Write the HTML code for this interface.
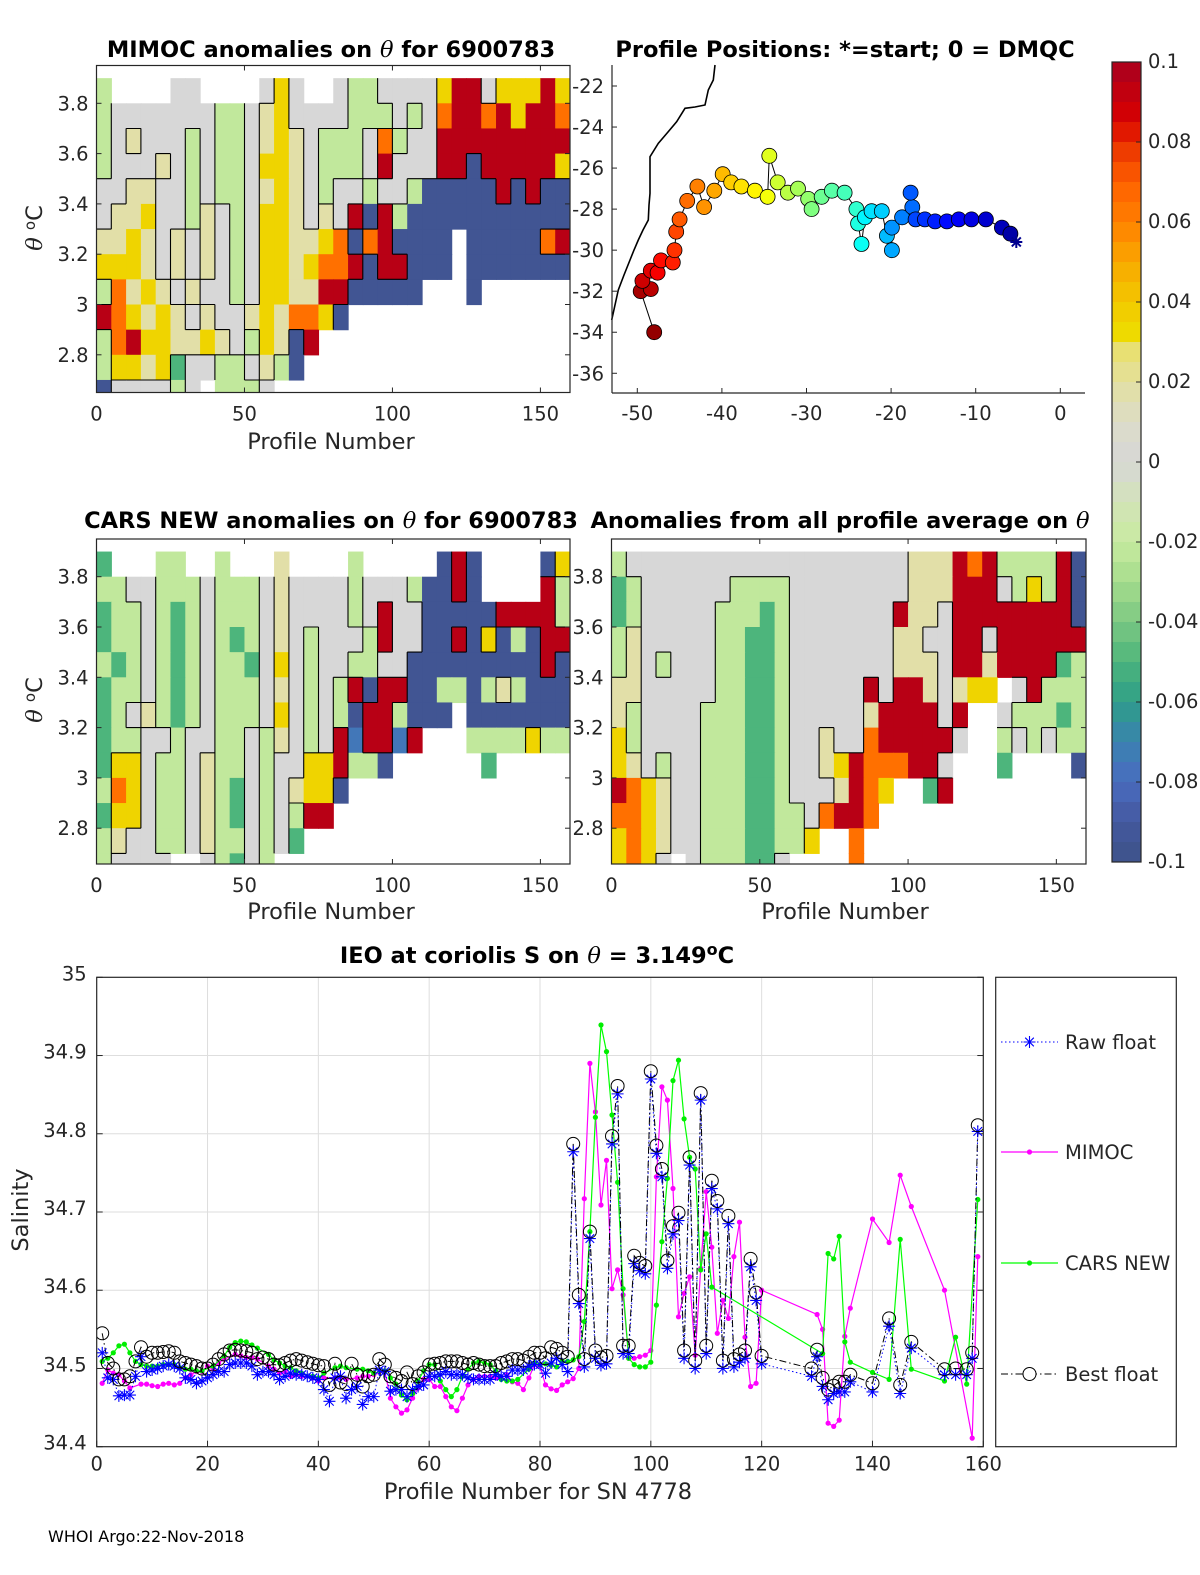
<!DOCTYPE html>
<html><head><meta charset="utf-8"><title>6900783 DMQC</title>
<style>
html,body{margin:0;padding:0;background:#fff;}
svg{display:block;font-family:"DejaVu Sans","Liberation Sans",sans-serif;}
.tk{font-size:19.5px;fill:#262626;}
.ttl{font-size:22.5px;font-weight:bold;fill:#000;}
.lbl{font-size:22.5px;fill:#262626;}
</style></head>
<body>
<svg id="fig" xmlns="http://www.w3.org/2000/svg" width="1200" height="1575" viewBox="0 0 1200 1575">
<defs>
<clipPath id="c1"><rect x="96.5" y="65.5" width="473.5" height="327"/></clipPath>
<clipPath id="c2"><rect x="96.5" y="539" width="473.5" height="325"/></clipPath>
<clipPath id="c3"><rect x="611.5" y="539" width="474.5" height="325"/></clipPath>
<clipPath id="cb"><rect x="96.7" y="977.3" width="886.6" height="469.4"/></clipPath>
</defs>
<rect width="1200" height="1575" fill="#fff"/>
<text class="ttl" x="331" y="57" text-anchor="middle">MIMOC anomalies on <tspan font-family="DejaVu Serif,serif" font-style="italic" font-weight="normal">θ</tspan>  for 6900783</text>
<text class="ttl" x="845" y="57" text-anchor="middle">Profile Positions: *=start; 0 = DMQC</text>
<text class="ttl" x="331" y="528" text-anchor="middle">CARS NEW anomalies on <tspan font-family="DejaVu Serif,serif" font-style="italic" font-weight="normal">θ</tspan> for 6900783</text>
<text class="ttl" x="840" y="528" text-anchor="middle">Anomalies from all profile average on <tspan font-family="DejaVu Serif,serif" font-style="italic" font-weight="normal">θ</tspan></text>
<text class="ttl" x="537" y="963" text-anchor="middle">IEO at coriolis S on <tspan font-family="DejaVu Serif,serif" font-style="italic" font-weight="normal">θ</tspan> = 3.149<tspan dy="-8" font-size="16">o</tspan><tspan dy="8">C</tspan></text>
<text class="lbl" x="331" y="449" text-anchor="middle">Profile Number</text>
<text class="lbl" x="331" y="919" text-anchor="middle">Profile Number</text>
<text class="lbl" x="845" y="919" text-anchor="middle">Profile Number</text>
<text class="lbl" transform="translate(42,228) rotate(-90)" text-anchor="middle"><tspan font-family="DejaVu Serif,serif" font-style="italic">θ</tspan> <tspan dy="-7" font-size="15">o</tspan><tspan dy="7">C</tspan></text>
<text class="lbl" transform="translate(42,700) rotate(-90)" text-anchor="middle"><tspan font-family="DejaVu Serif,serif" font-style="italic">θ</tspan> <tspan dy="-7" font-size="15">o</tspan><tspan dy="7">C</tspan></text>
<text class="lbl" x="538" y="1499" text-anchor="middle">Profile Number for SN 4778</text>
<text class="lbl" transform="translate(28,1210) rotate(-90)" text-anchor="middle">Salinity</text>
<text x="48" y="1542" font-size="16" fill="#000">WHOI Argo:22-Nov-2018</text>
<g id="layer"></g>
</svg>
<script>
// ---------- data ----------
const cellCodes = ['B','G','g','w','p','y','o','r'];
const cellVals  = [-0.095,-0.05,-0.022,0,0.018,0.035,0.065,0.095];
const rowTops = [3.9,3.8,3.7,3.6,3.5,3.4,3.3,3.2,3.1,3.0,2.9,2.8,2.7];
const mimocRows = [
"g....ww....wyw..wggwwwwyrrwyyyry",
"gwwwwwwwggwpywwwwgggwgworroryrro",
"gwpwwwgwggwpypwgggwogwwrrrrrrrrr",
"gwwwpwgwggwyypwgggwrwwwrrBrrrrry",
"wwppwwgwggwpypwgwwgwwgBBBBBrBrBB",
"wppywwgpwgwyypwpwrBrgBBBBBBBBBBB",
"ppypwpwpwgwyyppyoBorBBBB.BBBBBor",
"yyypwpwpwgwyypyoorBrrBBB.BBBBBBB",
"gopypwpwwgwyypprrBBBBB...B......",
"roypypwpwwpypooyB...............",
"goryyppypwgypBr.................",
"gyypyGwwggwpgB..................",
"Bwwwwgw.gggw...................."];
const carsRows = [
"G...gg..g...p....g.....BrB....By",
"ggwwgggwgggwpwwwwgwwwgBBrB....rg",
"GggwgGgwgggwpwwwwgwrwwBBBBBrrrrg",
"GggwgGgwgGgwpwgwwwgrwwBBrByBgBrr",
"gGgwgGgwggGwywgwwggwwBBBBBBBBBrB",
"GggwgGgwgggwpwgwgrBrrBBggBgpgBBB",
"GgwpgGgwgggwywgwgBrrgBBB.BBBBBBB",
"Gggwwgwwggwgpwgwrbrrbr...ggggygg",
"GyywggwpggwgwwyyrggB......G.....",
"goywggwpgGwgwpyyB...............",
"GyywggwpgGwgwgrr................",
"gpwwggwpggwgwG..................",
"gwwww..wgGwg...................."];
const avgRows = [
"gwwwwwwwwwwwwwwwwwwwppprorggggrB",
"GgwwwwwwggggwwwwwwwwppprrrwgygrB",
"GgwwwwwgggGgwwwwwwwrppwrrrrrrrrB",
"gpwwwwwggGGgwwwwwwwppwwrrwrrrrrr",
"gpwgwwwggGGgwwwwwwwpppwrrprrrrGg",
"ppwwwwwggGGgwwwwwrwrrpwpyy.wrggg",
"pgwwwwgggGGgwwwwwprrrrwr..wgggGg",
"ygwwwwgggGGgwwpwworrrrrw..gwgwgg",
"ypwgwwgggGGgwwpyrooorrw...G....B",
"roypwwgggGGgwwwproy..Gr.........",
"ooypwwgggGGggworro..............",
"yoypwwgggGGggy..o...............",
"yoyw.wgggGGw....o..............."];
const cbTicks = [0.1,0.08,0.06,0.04,0.02,0,-0.02,-0.04,-0.06,-0.08,-0.1];
const cbTickLabels = ['0.1','0.08','0.06','0.04','0.02','0','-0.02','-0.04','-0.06','-0.08','-0.1'];
const trackLon = [-5.2,-5.9,-6.9,-8.8,-10.5,-12.0,-13.4,-14.8,-16.0,-17.1,-17.7,-17.5,-18.7,-19.9,-19.9,-20.5,-21.1,-22.3,-23.1,-23.5,-23.9,-24.1,-25.5,-27.0,-28.2,-29.4,-29.8,-31.0,-32.2,-33.4,-34.4,-34.6,-36.1,-37.7,-38.9,-39.9,-40.9,-42.1,-42.9,-44.1,-45.0,-45.4,-45.6,-45.8,-47.2,-47.6,-48.4,-49.4,-48.4,-49.6,-48.0];
const trackLat = [-29.6,-29.2,-28.9,-28.5,-28.5,-28.5,-28.6,-28.6,-28.5,-28.5,-27.2,-27.9,-28.4,-28.9,-30.0,-29.3,-28.1,-28.1,-28.4,-29.7,-28.7,-28.0,-27.2,-27.1,-27.4,-28.0,-27.5,-27.0,-27.2,-26.7,-25.4,-27.4,-27.1,-26.9,-26.7,-26.3,-27.1,-27.9,-26.9,-27.6,-28.5,-29.1,-30.0,-30.6,-30.5,-31.1,-31.0,-31.5,-31.9,-32.0,-34.0];
const mapXTicks = [-50,-40,-30,-20,-10,0];
const mapYTicks = [-22,-24,-26,-28,-30,-32,-34,-36];
const heatXTicks = [0,50,100,150];
const heatYTicks = [3.8,3.6,3.4,3.2,3.0,2.8];
const heatYLabels = ['3.8','3.6','3.4','3.2','3','2.8'];
const salXTicks = [0,20,40,60,80,100,120,140,160];
const salYTicks = [34.4,34.5,34.6,34.7,34.8,34.9,35];
const salYLabels = ['34.4','34.5','34.6','34.7','34.8','34.9','35'];
const floatProf = [1,2,3,4,5,6,7,8,9,10,11,12,13,14,15,16,17,18,19,20,21,22,23,24,25,26,27,28,29,30,31,32,33,34,35,36,37,38,39,40,41,42,43,44,45,46,47,48,49,50,51,52,53,54,55,56,57,58,59,60,61,62,63,64,65,66,67,68,69,70,71,72,73,74,75,76,77,78,79,80,81,82,83,84,85,86,87,88,89,90,91,92,93,94,95,96,97,98,99,100,101,102,103,104,105,106,107,108,109,110,111,112,113,114,115,116,117,118,119,120,129,130,131,132,133,134,135,136,140,143,145,147,153,155,157,158,159];
const rawFloat = [34.520,34.488,34.486,34.465,34.466,34.466,34.490,34.515,34.496,34.498,34.500,34.503,34.505,34.503,34.500,34.488,34.486,34.481,34.484,34.488,34.492,34.496,34.496,34.505,34.507,34.507,34.507,34.503,34.492,34.496,34.496,34.492,34.486,34.490,34.494,34.492,34.492,34.490,34.488,34.486,34.473,34.458,34.488,34.490,34.462,34.473,34.477,34.454,34.464,34.464,34.498,34.496,34.471,34.473,34.473,34.464,34.473,34.477,34.479,34.490,34.490,34.492,34.496,34.492,34.492,34.492,34.488,34.486,34.486,34.486,34.486,34.492,34.490,34.490,34.498,34.498,34.498,34.503,34.505,34.505,34.494,34.507,34.513,34.505,34.496,34.777,34.583,34.502,34.666,34.513,34.504,34.506,34.787,34.851,34.519,34.519,34.634,34.625,34.621,34.870,34.775,34.745,34.628,34.672,34.689,34.513,34.760,34.500,34.843,34.519,34.730,34.704,34.500,34.685,34.502,34.508,34.513,34.630,34.587,34.506,34.490,34.515,34.477,34.460,34.468,34.470,34.470,34.483,34.470,34.554,34.468,34.526,34.492,34.492,34.492,34.513,34.803];
const bestFloat = [34.545,34.507,34.500,34.486,34.486,34.490,34.509,34.527,34.515,34.520,34.520,34.521,34.522,34.520,34.509,34.507,34.505,34.503,34.500,34.500,34.505,34.512,34.518,34.523,34.524,34.523,34.522,34.520,34.512,34.514,34.512,34.505,34.504,34.507,34.510,34.512,34.510,34.508,34.506,34.504,34.503,34.479,34.506,34.482,34.480,34.506,34.492,34.477,34.490,34.492,34.512,34.505,34.490,34.488,34.484,34.495,34.480,34.490,34.495,34.505,34.506,34.507,34.509,34.509,34.509,34.507,34.505,34.507,34.505,34.503,34.503,34.503,34.507,34.509,34.512,34.512,34.510,34.515,34.520,34.520,34.513,34.527,34.525,34.520,34.515,34.787,34.594,34.512,34.675,34.523,34.514,34.516,34.797,34.861,34.529,34.529,34.644,34.635,34.631,34.880,34.785,34.755,34.638,34.682,34.699,34.523,34.770,34.510,34.852,34.529,34.740,34.714,34.510,34.695,34.512,34.518,34.523,34.640,34.597,34.516,34.500,34.524,34.488,34.473,34.478,34.483,34.483,34.492,34.481,34.564,34.479,34.534,34.499,34.500,34.499,34.520,34.811];
const mimocProf = [1,2,3,4,5,6,8,9,10,11,12,13,14,15,16,17,18,19,20,21,22,23,25,26,27,28,29,31,32,33,34,35,36,37,39,40,41,43,44,45,47,48,49,50,52,53,54,55,56,57,58,59,60,61,62,63,64,65,66,67,68,69,70,71,72,73,74,75,76,77,78,79,80,81,82,83,84,85,86,87,88,89,90,91,92,93,94,95,96,97,98,99,100,101,102,103,104,105,106,107,108,109,110,111,112,113,114,115,116,117,118,119,120,130,131,132,133,134,135,136,140,143,145,147,153,158,159];
const mimocVal = [34.481,34.498,34.494,34.492,34.484,34.475,34.480,34.480,34.478,34.477,34.480,34.481,34.479,34.481,34.488,34.492,34.496,34.496,34.503,34.499,34.507,34.512,34.518,34.516,34.514,34.514,34.512,34.503,34.499,34.494,34.496,34.490,34.492,34.490,34.488,34.484,34.488,34.488,34.488,34.486,34.488,34.490,34.490,34.492,34.496,34.462,34.451,34.443,34.447,34.462,34.475,34.486,34.486,34.477,34.477,34.464,34.451,34.446,34.462,34.479,34.486,34.490,34.490,34.490,34.488,34.488,34.492,34.483,34.481,34.473,34.488,34.505,34.503,34.479,34.474,34.472,34.479,34.483,34.487,34.500,34.717,34.890,34.828,34.709,34.766,34.602,34.626,34.594,34.513,34.513,34.515,34.517,34.523,34.745,34.860,34.843,34.730,34.566,34.596,34.617,34.517,34.628,34.726,34.655,34.545,34.587,34.564,34.643,34.687,34.540,34.477,34.481,34.600,34.569,34.550,34.430,34.426,34.434,34.541,34.577,34.691,34.661,34.747,34.707,34.600,34.411,34.643];
const carsProf = [1,2,3,4,5,6,7,8,9,10,11,12,13,14,15,16,17,18,19,21,23,24,25,26,27,28,29,31,32,33,34,35,36,37,39,40,41,43,44,45,47,48,49,50,52,53,54,55,56,57,58,59,60,61,62,63,64,65,66,67,68,69,70,71,72,73,74,75,76,78,79,80,81,82,83,84,85,86,87,88,89,90,91,92,93,94,95,96,97,98,99,100,101,102,103,104,105,106,107,108,109,110,111,131,132,133,134,135,136,140,143,145,147,153,155,157,159];
const carsVal = [34.509,34.513,34.520,34.529,34.531,34.520,34.509,34.505,34.503,34.503,34.503,34.505,34.505,34.505,34.501,34.499,34.499,34.497,34.497,34.503,34.516,34.527,34.533,34.535,34.534,34.530,34.526,34.518,34.511,34.507,34.503,34.501,34.497,34.494,34.490,34.488,34.494,34.501,34.503,34.501,34.499,34.499,34.497,34.494,34.497,34.488,34.480,34.466,34.460,34.468,34.484,34.497,34.505,34.505,34.484,34.473,34.464,34.473,34.490,34.499,34.507,34.509,34.507,34.505,34.497,34.486,34.484,34.484,34.486,34.499,34.507,34.505,34.506,34.504,34.502,34.509,34.509,34.511,34.515,34.560,34.675,34.821,34.939,34.905,34.824,34.738,34.602,34.513,34.505,34.502,34.502,34.508,34.581,34.662,34.743,34.868,34.894,34.819,34.770,34.755,34.626,34.672,34.604,34.519,34.647,34.640,34.669,34.534,34.508,34.495,34.486,34.665,34.499,34.484,34.540,34.480,34.716];

// ---------- helpers ----------
const NS='http://www.w3.org/2000/svg';
const layer=document.getElementById('layer');
function mk(tag,attrs,parent){const e=document.createElementNS(NS,tag);for(const k in attrs)e.setAttribute(k,attrs[k]);(parent||layer).appendChild(e);return e;}
const stops=[[-0.1,'#3d5288'],[-0.09,'#44589e'],[-0.08,'#4a6cc0'],[-0.07,'#3a82b0'],[-0.06,'#2e9e88'],[-0.05,'#4db57c'],[-0.04,'#7cc882'],[-0.03,'#a5dc8c'],[-0.02,'#c8eba0'],[-0.01,'#d3e3b8'],[0,'#d7d7d7'],[0.01,'#dcdcc8'],[0.02,'#e3e0a0'],[0.028,'#e8e070'],[0.03,'#ece000'],[0.04,'#f2c800'],[0.05,'#f9a800'],[0.06,'#ff8000'],[0.07,'#ff6000'],[0.08,'#e83000'],[0.085,'#d90000'],[0.1,'#a8001f']];
function hx(c){return [parseInt(c.substr(1,2),16),parseInt(c.substr(3,2),16),parseInt(c.substr(5,2),16)];}
function cmap(v){v=Math.max(-0.1,Math.min(0.1,v));for(let i=0;i<stops.length-1;i++){if(v<=stops[i+1][0]){const t=(v-stops[i][0])/(stops[i+1][0]-stops[i][0]);const a=hx(stops[i][1]),b=hx(stops[i+1][1]);return 'rgb('+a.map((x,j)=>Math.round(x+(b[j]-x)*t)).join(',')+')';}}return stops[stops.length-1][1];}
function jet(t){const r=Math.max(0,Math.min(1,1.5-Math.abs(4*t-3))),g=Math.max(0,Math.min(1,1.5-Math.abs(4*t-2))),b=Math.max(0,Math.min(1,1.5-Math.abs(4*t-1)));return 'rgb('+Math.round(r*255)+','+Math.round(g*255)+','+Math.round(b*255)+')';}
function cval(ch){if(ch==='.')return null;const i=cellCodes.indexOf(ch);return i>=0?cellVals[i]:-0.075;}
function cls(v){return v===null?null:(v<-0.01?-1:(v>0.01?1:0));}

// ---------- heatmaps ----------
function heatmap(rows,P,name){
  const X=p=>P.x0+(P.x1-P.x0)*p/160;
  const Y=v=>P.y38+(3.8-v)*251.5;
  const g=mk('g',{'clip-path':'url(#'+P.clip+')'});
  
  
  rows.forEach((row,r)=>{
    for(let c=0;c<row.length;c++){
      const val=cval(row[c]); if(val===null)continue;
      const rc=mk('rect',{x:X(c*5).toFixed(2),y:Y(rowTops[r]).toFixed(2),width:(X(5)-X(0)+0.6).toFixed(2),height:(Y(rowTops[r]-0.1)-Y(rowTops[r])+0.6).toFixed(2),fill:cmap(val)},g);
      
      
    }
  });
  let d='';
  rows.forEach((row,r)=>{
    for(let c=0;c<row.length;c++){
      const a=cls(cval(row[c])); if(a===null)continue;
      if(c+1<row.length){const b=cls(cval(row[c+1])); if(b!==null&&b!==a){const x=X((c+1)*5);d+=`M${x.toFixed(1)},${Y(rowTops[r]).toFixed(1)}V${Y(rowTops[r]-0.1).toFixed(1)}`;}}
      if(r+1<rows.length){const b=cls(cval(rows[r+1][c])); if(b!==null&&b!==a){const y=Y(rowTops[r]-0.1);d+=`M${X(c*5).toFixed(1)},${y.toFixed(1)}H${X(c*5+5).toFixed(1)}`;}}
    }
  });
  const ct=mk('path',{d:d,fill:'none',stroke:'#000','stroke-width':1.1},g);
  
  
  const fr=mk('rect',{x:P.x0,y:P.top,width:P.x1-P.x0,height:P.bot-P.top,fill:'none',stroke:'#262626','stroke-width':1.2});
  
  
  heatXTicks.forEach(t=>{
    mk('line',{x1:X(t),x2:X(t),y1:P.bot,y2:P.bot-5,stroke:'#262626'});
    mk('line',{x1:X(t),x2:X(t),y1:P.top,y2:P.top+5,stroke:'#262626'});
    const tx=mk('text',{x:X(t),y:P.bot+28,'text-anchor':'middle',class:'tk'});tx.textContent=t;
    
    
  });
  heatYTicks.forEach((t,i)=>{
    mk('line',{x1:P.x0,x2:P.x0+5,y1:Y(t),y2:Y(t),stroke:'#262626'});
    mk('line',{x1:P.x1,x2:P.x1-5,y1:Y(t),y2:Y(t),stroke:'#262626'});
    const tx=mk('text',{x:P.x0-8,y:Y(t)+7,'text-anchor':'end',class:'tk'});tx.textContent=heatYLabels[i];
    
    
  });
}
heatmap(mimocRows,{x0:96.5,x1:570,y38:103.3,top:65.5,bot:392.5,clip:'c1'},'mimoc-heatmap');
heatmap(carsRows,{x0:96.5,x1:570,y38:576.7,top:539,bot:864,clip:'c2'},'cars-heatmap');
heatmap(avgRows,{x0:611.5,x1:1086,y38:576.7,top:539,bot:864,clip:'c3'},'avg-heatmap');

// ---------- colour bar ----------
(function(){
  const x0=1112,w=29,top=62,bot=862,n=40;
  for(let i=0;i<n;i++){
    const v=0.1-(i+0.5)*0.2/n;
    const r=mk('rect',{x:x0,y:(top+i*(bot-top)/n).toFixed(2),width:w,height:((bot-top)/n+0.5).toFixed(2),fill:cmap(v)});
    
    
  }
  const f=mk('rect',{x:x0,y:top,width:w,height:bot-top,fill:'none',stroke:'#262626','stroke-width':1.2});
  
  
  cbTicks.forEach((t,i)=>{
    const y=top+(0.1-t)*(bot-top)/0.2;
    mk('line',{x1:x0+w-5,x2:x0+w,y1:y,y2:y,stroke:'#262626'});
    const tx=mk('text',{x:1148,y:y+6,class:'tk','font-size':'17'});tx.textContent=cbTickLabels[i];
    
    
  });
})();

// ---------- map ----------
(function(){
  const LX=lon=>1060.3+lon*8.46, LY=lat=>86+(-22-lat)*20.52;
  const left=612,bot=393,right=1085,top=65;
  const coast=mk('polyline',{points:'611.7,320 618.3,290 624,275 630,260 634,250 638.3,240 643,230 648.3,220 649,205 650,193.3 650,170 650,156.7 658.3,143.3 668,132 676.7,121.7 685,108.3 695,107 705,105 708.3,90 713.3,80 715,65',fill:'none',stroke:'#000','stroke-width':1.6});
  
  
  const trk=mk('polyline',{points:trackLon.map((l,i)=>LX(l).toFixed(1)+','+LY(trackLat[i]).toFixed(1)).join(' '),fill:'none',stroke:'#000','stroke-width':1});
  
  
  const n=trackLon.length;
  for(let i=n-1;i>=1;i--){
    const c=mk('circle',{cx:LX(trackLon[i]).toFixed(1),cy:LY(trackLat[i]).toFixed(1),r:7.5,fill:jet(0.02+0.96*i/(n-1)),stroke:'#000','stroke-width':0.8});
    
    
  }
  const sx=LX(trackLon[0]),sy=LY(trackLat[0]);
  const st=mk('path',{d:`M${sx-6},${sy}H${sx+6}M${sx},${sy-6}V${sy+6}M${sx-4.5},${sy-4.5}L${sx+4.5},${sy+4.5}M${sx-4.5},${sy+4.5}L${sx+4.5},${sy-4.5}`,stroke:'#00008f','stroke-width':2});
  
  
  mk('line',{x1:left,x2:right,y1:bot,y2:bot,stroke:'#262626','stroke-width':1.2});
  mk('line',{x1:left,x2:left,y1:top,y2:bot,stroke:'#262626','stroke-width':1.2});
  mapXTicks.forEach(t=>{
    mk('line',{x1:LX(t),x2:LX(t),y1:bot,y2:bot-5,stroke:'#262626'});
    const tx=mk('text',{x:LX(t),y:bot+27,'text-anchor':'middle',class:'tk'});tx.textContent=t;
    
    
  });
  mapYTicks.forEach(t=>{
    mk('line',{x1:left,x2:left+5,y1:LY(t),y2:LY(t),stroke:'#262626'});
    const tx=mk('text',{x:left-8,y:LY(t)+7,'text-anchor':'end',class:'tk'});tx.textContent=t;
    
    
  });
})();

// ---------- salinity chart ----------
(function(){
  const x0=96.7,x1=983.3,y0=977.3,y1=1446.7;
  const X=p=>x0+p*(x1-x0)/160, Y=s=>y0+(35-s)*(y1-y0)/0.6;
  salXTicks.forEach(t=>{
    if(t>0&&t<160){const gl=mk('line',{x1:X(t),x2:X(t),y1:y0,y2:y1,stroke:'#dedede','stroke-width':1});
    
    }
    mk('line',{x1:X(t),x2:X(t),y1:y1,y2:y1-6,stroke:'#262626'});
    const tx=mk('text',{x:X(t),y:y1+24,'text-anchor':'middle',class:'tk'});tx.textContent=t;
    
    
  });
  salYTicks.forEach((t,i)=>{
    if(t>34.41&&t<34.99){const gl=mk('line',{x1:x0,x2:x1,y1:Y(t),y2:Y(t),stroke:'#dedede','stroke-width':1});
    
    }
    mk('line',{x1:x0,x2:x0+6,y1:Y(t),y2:Y(t),stroke:'#262626'});
    mk('line',{x1:x1,x2:x1-6,y1:Y(t),y2:Y(t),stroke:'#262626'});
    const tx=mk('text',{x:x0-10,y:Y(t)+3,'text-anchor':'end',class:'tk'});tx.textContent=salYLabels[i];
    
    
  });
  const g=mk('g',{'clip-path':'url(#cb)'});
  
  
  function line(prof,vals,attrs,name){
    const pl=mk('polyline',Object.assign({points:prof.map((p,i)=>X(p).toFixed(1)+','+Y(vals[i]).toFixed(1)).join(' '),fill:'none'},attrs),g);
    
    
  }
  line(mimocProf,mimocVal,{stroke:'#ff00ff','stroke-width':1.2},'mimoc-line');
  mimocProf.forEach((p,i)=>{const c=mk('circle',{cx:X(p).toFixed(1),cy:Y(mimocVal[i]).toFixed(1),r:2.6,fill:'#ff00ff'},g);
    
    });
  line(carsProf,carsVal,{stroke:'#00ff00','stroke-width':1.2},'cars-line');
  carsProf.forEach((p,i)=>{const c=mk('circle',{cx:X(p).toFixed(1),cy:Y(carsVal[i]).toFixed(1),r:2.6,fill:'#00ee00'},g);
    
    });
  line(floatProf,rawFloat,{stroke:'#0000ff','stroke-width':1,'stroke-dasharray':'1.5,2.5'},'raw-float-line');
  line(floatProf,bestFloat,{stroke:'#000','stroke-width':1,'stroke-dasharray':'7,3,1.5,3'},'best-float-line');
  floatProf.forEach((p,i)=>{
    const x=X(p),y=Y(rawFloat[i]),s=6;
    const a=mk('path',{d:`M${x-s},${y}H${x+s}M${x},${y-s}V${y+s}M${x-4.3},${y-4.3}L${x+4.3},${y+4.3}M${x-4.3},${y+4.3}L${x+4.3},${y-4.3}`,stroke:'#0000ff','stroke-width':1.1,fill:'none'},g);
    
    
    const c=mk('circle',{cx:X(p).toFixed(1),cy:Y(bestFloat[i]).toFixed(1),r:6.5,fill:'none',stroke:'#000','stroke-width':1},g);
    
    
  });
  const fr=mk('rect',{x:x0,y:y0,width:x1-x0,height:y1-y0,fill:'none',stroke:'#262626','stroke-width':1.2});
  
  
  const lg=mk('g',{});
  
  
  const lb=mk('rect',{x:995.7,y:977.3,width:180.6,height:469.4,fill:'#fff',stroke:'#262626','stroke-width':1.2},lg);
  
  
  const entries=[['Raw float',1042],['MIMOC',1152],['CARS NEW',1263],['Best float',1374]];
  entries.forEach((e,i)=>{
    const y=e[1],xa=1001,xb=1058,xm=1029.5;
    const eg=mk('g',{},lg);
    
    
    if(i===0){mk('line',{x1:xa,x2:xb,y1:y,y2:y,stroke:'#0000ff','stroke-dasharray':'1.5,2.5'},eg);
      mk('path',{d:`M${xm-6},${y}H${xm+6}M${xm},${y-6}V${y+6}M${xm-4.3},${y-4.3}L${xm+4.3},${y+4.3}M${xm-4.3},${y+4.3}L${xm+4.3},${y-4.3}`,stroke:'#0000ff','stroke-width':1.1},eg);}
    if(i===1){mk('line',{x1:xa,x2:xb,y1:y,y2:y,stroke:'#ff00ff','stroke-width':1.2},eg);mk('circle',{cx:xm,cy:y,r:2.6,fill:'#ff00ff'},eg);}
    if(i===2){mk('line',{x1:xa,x2:xb,y1:y,y2:y,stroke:'#00ff00','stroke-width':1.2},eg);mk('circle',{cx:xm,cy:y,r:2.6,fill:'#00ee00'},eg);}
    if(i===3){mk('line',{x1:xa,x2:xb,y1:y,y2:y,stroke:'#000','stroke-dasharray':'7,3,1.5,3'},eg);mk('circle',{cx:xm,cy:y,r:6.5,fill:'#fff',stroke:'#000'},eg);}
    const t=mk('text',{x:1065,y:y+7,class:'tk'},eg);t.textContent=e[0];
    
    
  });
})();
</script>
</body></html>
